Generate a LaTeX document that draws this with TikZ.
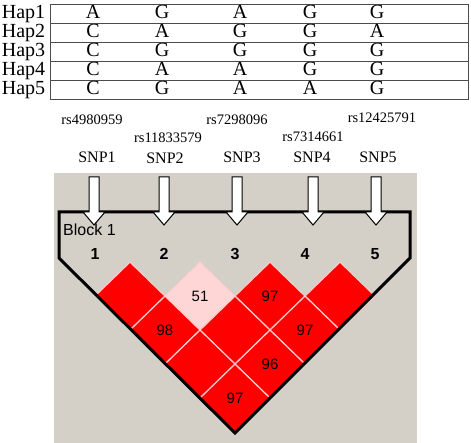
\documentclass[tikz,border=0pt]{standalone}
\usepackage{fontspec}
\setmainfont{Liberation Serif}
\setsansfont{Liberation Sans}
\usepackage{tikz}
\usetikzlibrary{shapes.geometric,positioning}
\definecolor{panelgray}{RGB}{212,208,200}
\definecolor{ldred}{RGB}{255,0,0}
\definecolor{ldpink}{RGB}{255,214,214}
\definecolor{ldline}{RGB}{255,205,205}
\tikzset{
  haplotype/.style={x=1pt,y=-1pt},
  haplabel/.style={anchor=base,inner sep=0pt,font=\fontsize{20}{22}\selectfont},
  allele/.style={haplabel},
  tableline/.style={draw=black!70,line width=0.8pt},
  rsname/.style={anchor=base,inner sep=0pt,font=\fontsize{14.5}{16}\selectfont},
  snpname/.style={anchor=base,inner sep=0pt,font=\fontsize{16}{18}\selectfont},
  marker/.style={anchor=base,inner sep=0pt,font=\sffamily\bfseries\fontsize{16}{18}\selectfont},
  ldcell/.style={diamond,draw=ldline,line width=1pt,fill=ldred,
    minimum width=70pt,minimum height=68pt,inner sep=0pt,
    font=\sffamily\fontsize{15}{17}\selectfont},
  weak/.style={fill=ldpink},
  blockline/.style={draw=black,line width=3pt,line join=miter},
  snparrow/.pic={
    \draw[fill=white,line width=1pt] (-5,-48) -- (-5,-13) -- (-11,-13) -- (0,0)
      -- (11,-13) -- (5,-13) -- (5,-48) -- cycle;
  }
}
\begin{document}
\begin{tikzpicture}[haplotype]
  \useasboundingbox (0,0) rectangle (471,443);

  % haplotype table
  \draw[tableline] (50,4) rectangle (468,99);
  \draw[tableline] (50,23.5) -- (468,23.5);
  \draw[tableline] (50,42.5) -- (468,42.5);
  \draw[tableline] (50,61.5) -- (468,61.5);
  \draw[tableline] (50,80.5) -- (468,80.5);

  \node[haplabel] (hap1) at (23.5,18.5) {Hap1};
  \node[haplabel] (hap2) at (23.5,37.5) {Hap2};
  \node[haplabel] (hap3) at (23.5,56.5) {Hap3};
  \node[haplabel] (hap4) at (23.5,75.5) {Hap4};
  \node[haplabel] (hap5) at (23.5,94.5) {Hap5};

  \node[allele] (a11) at (93,18.5) {A};
  \node[allele] (a12) at (162,18.5) {G};
  \node[allele] (a13) at (240,18.5) {A};
  \node[allele] (a14) at (310,18.5) {G};
  \node[allele] (a15) at (377,18.5) {G};
  \node[allele] (a21) at (93,37.5) {C};
  \node[allele] (a22) at (162,37.5) {A};
  \node[allele] (a23) at (240,37.5) {G};
  \node[allele] (a24) at (310,37.5) {G};
  \node[allele] (a25) at (377,37.5) {A};
  \node[allele] (a31) at (93,56.5) {C};
  \node[allele] (a32) at (162,56.5) {G};
  \node[allele] (a33) at (240,56.5) {G};
  \node[allele] (a34) at (310,56.5) {G};
  \node[allele] (a35) at (377,56.5) {G};
  \node[allele] (a41) at (93,75.5) {C};
  \node[allele] (a42) at (162,75.5) {A};
  \node[allele] (a43) at (240,75.5) {A};
  \node[allele] (a44) at (310,75.5) {G};
  \node[allele] (a45) at (377,75.5) {G};
  \node[allele] (a51) at (93,94.5) {C};
  \node[allele] (a52) at (162,94.5) {G};
  \node[allele] (a53) at (240,94.5) {A};
  \node[allele] (a54) at (310,94.5) {A};
  \node[allele] (a55) at (377,94.5) {G};

  % marker names
  \node[rsname] (rs1) at (92,125) {rs4980959};
  \node[rsname] (rs2) at (168,142.5) {rs11833579};
  \node[rsname] (rs3) at (237,124.5) {rs7298096};
  \node[rsname] (rs4) at (313,141.5) {rs7314661};
  \node[rsname] (rs5) at (382,123) {rs12425791};

  \node[snpname] (snp1) at (97,162.5) {SNP1};
  \node[snpname] (snp2) at (165,164) {SNP2};
  \node[snpname] (snp3) at (242,162.5) {SNP3};
  \node[snpname] (snp4) at (312,162.5) {SNP4};
  \node[snpname] (snp5) at (378,162.5) {SNP5};

  % LD plot
  \fill[panelgray] (54,173) rectangle (417,443);

  \node[ldcell] (ld12) at (130,296) {};
  \node[ldcell,weak] (ld23) at (200,296) {51};
  \node[ldcell] (ld34) at (270,296) {97};
  \node[ldcell] (ld45) at (340,296) {};
  \node[ldcell] (ld13) at (165,330) {98};
  \node[ldcell] (ld24) at (235,330) {};
  \node[ldcell] (ld35) at (305,330) {97};
  \node[ldcell] (ld14) at (200,364) {};
  \node[ldcell] (ld25) at (270,364) {96};
  \node[ldcell] (ld15) at (235,398) {97};

  \draw[blockline] (59,212) -- (410,212) -- (410,258) -- (235,433)
    -- (59,258) -- cycle;

  \pic at (94,225) {snparrow};
  \pic at (164,225) {snparrow};
  \pic at (237,225) {snparrow};
  \pic at (313,225) {snparrow};
  \pic at (376,225) {snparrow};

  \node[anchor=base west,inner sep=0pt,font=\sffamily\fontsize{16}{18}\selectfont]
    (block) at (63,236) {Block 1};
  \node[marker] (m1) at (95,260) {1};
  \node[marker] (m2) at (164,260) {2};
  \node[marker] (m3) at (235,260) {3};
  \node[marker] (m4) at (305,260) {4};
  \node[marker] (m5) at (375,260) {5};
\end{tikzpicture}
\end{document}
